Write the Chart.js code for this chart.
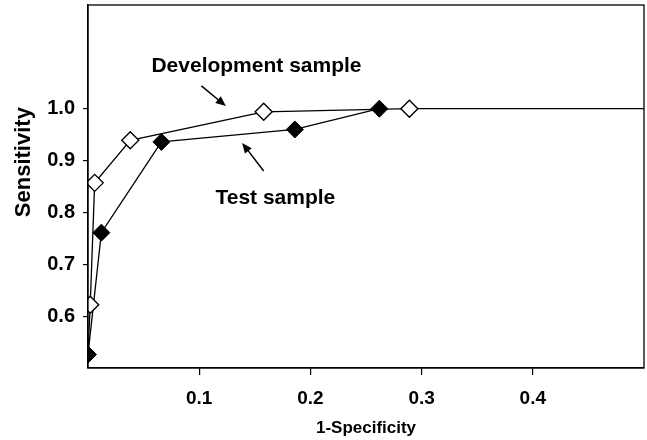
<!DOCTYPE html>
<html>
<head>
<meta charset="utf-8">
<script src="https://cdn.jsdelivr.net/npm/chart.js@4"></script>
<style>
html,body{margin:0;padding:0;background:#fff}
</style>
</head>
<body>
<canvas id="roc" width="647" height="440"></canvas>
<script>
// ROC points (x = 1-specificity, y = sensitivity)
const devX = [0, 0.002, 0.006, 0.038, 0.158, 0.289, 0.5]
const devY = [0.526, 0.622, 0.857, 0.939, 0.994, 1.0, 1.0]
const testX = [0, 0.012, 0.066, 0.186, 0.262]
const testY = [0.526, 0.761, 0.936, 0.960, 1.0]
const xTicks = [0.1, 0.2, 0.3, 0.4]
const yTicks = [0.6, 0.7, 0.8, 0.9, 1.0]

const FONT = "'Liberation Sans', Arial, sans-serif"

// labels + arrows, in data units
const notes = [
    {text: "Development sample", x: 0.1515, y: 1.082, from: [0.102, 1.044], to: [0.124, 1.005]},
    {text: "Test sample", x: 0.1685, y: 0.828, from: [0.158, 0.880], to: [0.1386, 0.934]}
]
// y title sits above the middle of the axis in the original
const yTitle = {text: "Sensitivity", y: 0.897, left: 23.5}

const toPoints = (xs, ys) => xs.map((x, i) => ({x: x, y: ys[i]}))

const devRadius = devX.map((x, i) => (i == 0 || i == devX.length - 1) ? 0 : 8.5)

const frame = {
    id: "frame",
    afterDraw(chart) {
        const {ctx, chartArea: a} = chart
        ctx.save()
        ctx.strokeStyle = "#000"
        ctx.lineWidth = 1.3
        ctx.strokeRect(a.left, a.top, a.right - a.left, a.bottom - a.top)
        ctx.restore()
    }
}

const annotations = {
    id: "annotations",
    afterDatasetsDraw(chart) {
        const {ctx, scales} = chart
        const px = v => scales.x.getPixelForValue(v)
        const py = v => scales.y.getPixelForValue(v)
        ctx.save()
        ctx.fillStyle = "#000"
        ctx.strokeStyle = "#000"
        ctx.font = "bold 21px " + FONT
        ctx.textAlign = "center"
        ctx.textBaseline = "middle"
        notes.forEach(n => {
            ctx.fillText(n.text, px(n.x), py(n.y))
            const x1 = px(n.from[0]), y1 = py(n.from[1])
            const x2 = px(n.to[0]), y2 = py(n.to[1])
            const ang = Math.atan2(y2 - y1, x2 - x1)
            const head = 11
            ctx.lineWidth = 1.5
            ctx.beginPath()
            ctx.moveTo(x1, y1)
            ctx.lineTo(x2 - head * 0.8 * Math.cos(ang), y2 - head * 0.8 * Math.sin(ang))
            ctx.stroke()
            ctx.beginPath()
            ctx.moveTo(x2, y2)
            ctx.lineTo(x2 - head * Math.cos(ang - 0.4), y2 - head * Math.sin(ang - 0.4))
            ctx.lineTo(x2 - head * Math.cos(ang + 0.4), y2 - head * Math.sin(ang + 0.4))
            ctx.closePath()
            ctx.fill()
        })
        // rotated axis title
        ctx.font = "bold 22px " + FONT
        ctx.translate(yTitle.left, py(yTitle.y))
        ctx.rotate(-Math.PI / 2)
        ctx.fillText(yTitle.text, 0, 0)
        ctx.restore()
    }
}

// drop the space chart.js reserves for half-labels at the ends
const noEdgePad = s => {
    s.paddingTop = 0
    s.paddingBottom = 0
    s.paddingLeft = 0
    s.paddingRight = 0
}

const ctx = document.getElementById("roc")

let roc = new Chart(ctx, {
    type: "scatter",
    data: {
        datasets: [
            {
                label: "Development sample",
                data: toPoints(devX, devY),
                showLine: true,
                borderColor: "#000",
                borderWidth: 1.3,
                pointStyle: "rectRot",
                pointRadius: devRadius,
                pointBackgroundColor: "#fff",
                pointBorderColor: "#000",
                pointBorderWidth: 1.4
            },
            {
                label: "Test sample",
                data: toPoints(testX, testY),
                showLine: true,
                borderColor: "#000",
                borderWidth: 1.3,
                pointStyle: "rectRot",
                pointRadius: 8.5,
                pointBackgroundColor: "#000",
                pointBorderColor: "#000",
                pointBorderWidth: 1
            }
        ]
    },
    options: {
        responsive: false,
        animation: false,
        events: [],
        layout: {autoPadding: false, padding: {top: 5, right: 3, left: 0, bottom: 0}},
        plugins: {
            legend: {display: false},
            tooltip: {enabled: false}
        },
        scales: {
            x: {
                type: "linear",
                min: 0,
                max: 0.5,
                afterBuildTicks: s => { s.ticks = xTicks.map(v => ({value: v})) },
                afterFit: s => { s.height = 72; noEdgePad(s) },
                ticks: {
                    color: "#000",
                    padding: 12,
                    maxRotation: 0,
                    font: {family: FONT, size: 19, weight: "bold"},
                    callback: v => v.toFixed(1)
                },
                grid: {drawOnChartArea: false, tickLength: 7, color: "#000", lineWidth: 1.2},
                border: {color: "#000", width: 1.3},
                title: {
                    display: true,
                    text: "1-Specificity",
                    color: "#000",
                    font: {family: FONT, size: 17, weight: "bold"},
                    padding: {top: 0, bottom: 1}
                }
            },
            y: {
                type: "linear",
                min: 0.5,
                max: 1.2,
                afterBuildTicks: s => { s.ticks = yTicks.map(v => ({value: v})) },
                afterFit: s => { s.width = 88; noEdgePad(s) },
                ticks: {
                    color: "#000",
                    padding: 8,
                    font: {family: FONT, size: 20, weight: "bold"},
                    callback: v => v.toFixed(1)
                },
                grid: {drawOnChartArea: false, tickLength: 5, color: "#000", lineWidth: 1.2},
                border: {color: "#000", width: 1.3}
            }
        }
    },
    plugins: [frame, annotations]
})
</script>
</body>
</html>
